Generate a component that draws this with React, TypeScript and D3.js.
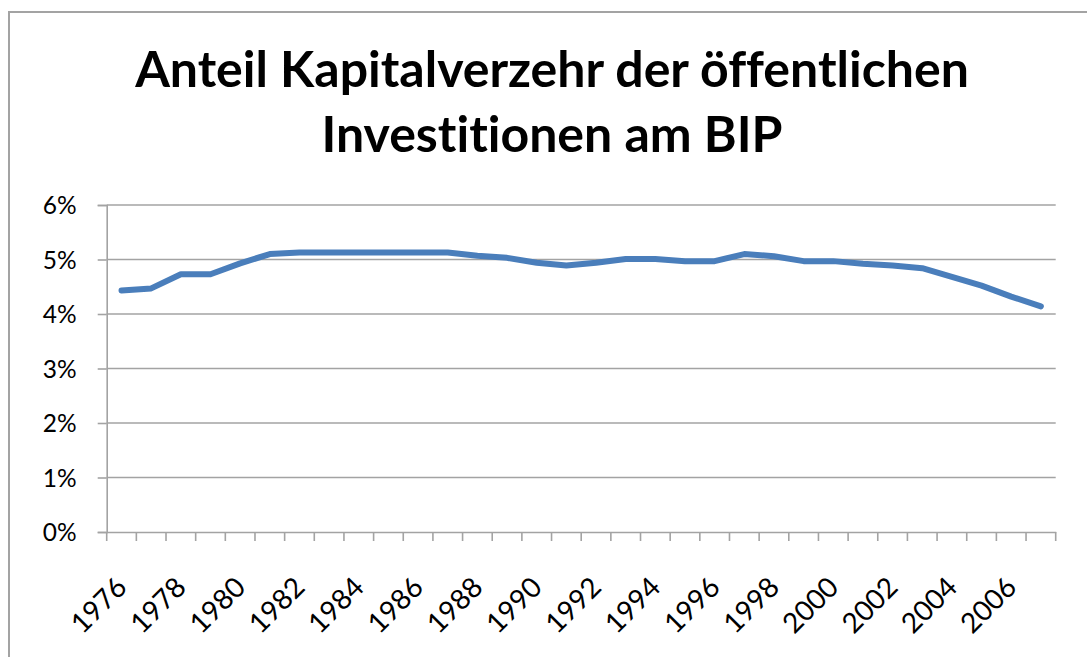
import React, { useEffect, useRef } from "react";
import * as d3 from "d3";

const years = [
  1976, 1977, 1978, 1979, 1980, 1981, 1982, 1983, 1984, 1985, 1986, 1987, 1988, 1989, 1990, 1991,
  1992, 1993, 1994, 1995, 1996, 1997, 1998, 1999, 2000, 2001, 2002, 2003, 2004, 2005, 2006, 2007
];

// Anteil in Prozent
const anteil = [
  4.43, 4.47, 4.73, 4.73, 4.93, 5.1, 5.13, 5.13, 5.13, 5.13, 5.13, 5.13, 5.07, 5.03, 4.94, 4.89,
  4.94, 5.01, 5.01, 4.97, 4.97, 5.1, 5.06, 4.97, 4.97, 4.92, 4.89, 4.84, 4.68, 4.52, 4.32, 4.14
];

const yTicks = [0, 1, 2, 3, 4, 5, 6];
const xLabels = [1976, 1978, 1980, 1982, 1984, 1986, 1988, 1990, 1992, 1994, 1996, 1998, 2000, 2002, 2004, 2006];
const titleLines = ["Anteil Kapitalverzehr der öffentlichen", "Investitionen am BIP"];

const W = 1087;
const H = 657;
const FONT = "Lato, 'Open Sans', sans-serif";
const GRID = "#a3a3a3";

const App: React.FC = () => {
  const ref = useRef<SVGSVGElement | null>(null);

  useEffect(() => {
    if (!ref.current) return;
    const svg = d3.select(ref.current);
    svg.selectAll("*").remove();

    const left = 106.7;
    const right = 1055.7;
    const top = 205;
    const bottom = 532;

    const x = d3.scaleBand<number>().domain(years).range([left, right]);
    const y = d3.scaleLinear().domain([0, 6]).range([bottom, top]);

    // äußerer Rahmen des Diagramms
    svg
      .append("rect")
      .attr("x", 9)
      .attr("y", 12)
      .attr("width", W + 40)
      .attr("height", H + 40)
      .attr("fill", "white")
      .attr("stroke", GRID)
      .attr("stroke-width", 2);

    // Titel
    svg
      .append("g")
      .selectAll("text")
      .data(titleLines)
      .enter()
      .append("text")
      .attr("x", 552)
      .attr("y", (d, i) => 86.7 + i * 65)
      .attr("text-anchor", "middle")
      .attr("font-family", FONT)
      .attr("font-weight", 700)
      .attr("font-size", 50)
      .style("font-variant-ligatures", "none")
      .attr("fill", "#000")
      .text((d) => d);

    // Gitterlinien
    svg
      .append("g")
      .selectAll("line")
      .data(yTicks.filter((t) => t > 0))
      .enter()
      .append("line")
      .attr("x1", left)
      .attr("x2", right)
      .attr("y1", (d) => y(d))
      .attr("y2", (d) => y(d))
      .attr("stroke", GRID)
      .attr("stroke-width", 1.6);

    // Y-Achse
    const yAxis = d3
      .axisLeft(y)
      .tickValues(yTicks)
      .tickSize(9)
      .tickPadding(21)
      .tickFormat((d) => `${d}%`);

    const gy = svg.append("g").attr("transform", `translate(${left},0)`).call(yAxis);
    gy.select(".domain").attr("stroke", GRID).attr("stroke-width", 1.6);
    gy.selectAll(".tick line").attr("stroke", GRID).attr("stroke-width", 1.6);
    gy.selectAll(".tick text")
      .attr("font-family", FONT)
      .attr("font-size", 24.5)
      .attr("fill", "#000")
      .attr("dy", "0.36em");

    // X-Achse
    const xAxis = d3.axisBottom(x).tickValues([]).tickSizeOuter(0);
    const gx = svg.append("g").attr("transform", `translate(0,${bottom})`).call(xAxis);
    gx.select(".domain").attr("stroke", GRID).attr("stroke-width", 1.6);

    const bounds = years.map((yr) => x(yr) as number).concat([right]);
    gx.append("g")
      .selectAll("line")
      .data(bounds)
      .enter()
      .append("line")
      .attr("x1", (d) => d)
      .attr("x2", (d) => d)
      .attr("y1", 0)
      .attr("y2", 9)
      .attr("stroke", GRID)
      .attr("stroke-width", 1.6);

    gx.append("g")
      .selectAll("text")
      .data(xLabels)
      .enter()
      .append("text")
      .attr("transform", (d) => {
        const cx = (x(d) as number) + x.bandwidth() / 2 + 7;
        return `translate(${cx},57) rotate(-45)`;
      })
      .attr("text-anchor", "end")
      .attr("font-family", FONT)
      .attr("font-size", 28)
      .attr("fill", "#000")
      .text((d) => String(d));

    // Linie
    const line = d3
      .line<number>()
      .x((d, i) => (x(years[i]) as number) + x.bandwidth() / 2)
      .y((d) => y(d));

    svg
      .append("path")
      .datum(anteil)
      .attr("d", line)
      .attr("fill", "none")
      .attr("stroke", "#4a7ebb")
      .attr("stroke-width", 6)
      .attr("stroke-linejoin", "round")
      .attr("stroke-linecap", "round");
  }, [ref]);

  return (
    <svg
      ref={ref}
      width={W}
      height={H}
      style={{ position: "absolute", left: 0, top: 0, background: "white" }}
    />
  );
};

export default App;
